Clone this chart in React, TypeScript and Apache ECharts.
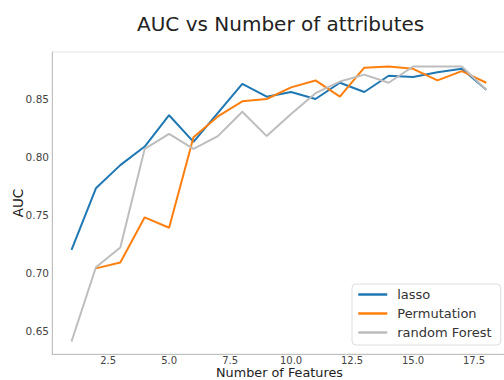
import React, { useEffect, useRef } from "react";
import * as echarts from "echarts";

const features = [1, 2, 3, 4, 5, 6, 7, 8, 9, 10, 11, 12, 13, 14, 15, 16, 17, 18];
const lasso = [0.720, 0.773, 0.793, 0.809, 0.836, 0.813, 0.838, 0.863, 0.852, 0.856, 0.850, 0.864, 0.856, 0.870, 0.869, 0.873, 0.876, 0.858];
const permutation = [null, 0.704, 0.709, 0.748, 0.739, 0.817, 0.835, 0.848, 0.850, 0.860, 0.866, 0.852, 0.877, 0.878, 0.876, 0.866, 0.874, 0.864];
const randomForest = [0.641, 0.705, 0.722, 0.807, 0.820, 0.807, 0.818, 0.839, 0.818, 0.837, 0.855, 0.865, 0.871, 0.864, 0.878, 0.878, 0.878, 0.858];
const xTicks = [2.5, 5, 7.5, 10, 12.5, 15, 17.5];
const yTicks = [0.65, 0.7, 0.75, 0.8, 0.85];
const seriesNames = ["lasso", "Permutation", "random Forest"];
const seriesColors = ["#1f77b4", "#ff7f0e", "#bdbdbd"];

const FONT = "DejaVu Sans";

export default function App() {
  const ref = useRef<HTMLDivElement>(null);
  useEffect(() => {
    if (!ref.current) return;
    const chart = echarts.init(ref.current, undefined, { renderer: "svg" });
    const values = [lasso, permutation, randomForest];
    const series = values.map((arr, i) => ({
      name: seriesNames[i],
      type: "line",
      symbol: "none",
      showSymbol: false,
      lineStyle: { width: 2, color: seriesColors[i] },
      itemStyle: { color: seriesColors[i] },
      data: features.map((f, j) => [f, arr[j]]).filter((d) => d[1] != null),
    }));
    chart.setOption({
      animation: false,
      backgroundColor: "#ffffff",
      textStyle: { fontFamily: FONT },
      title: {
        text: "AUC vs Number of attributes",
        left: 132,
        top: 9,
        textStyle: { fontFamily: FONT, fontSize: 20, fontWeight: "normal", color: "#222" },
      },
      grid: {
        left: 52,
        right: -3,
        top: 52,
        bottom: 26,
        outerBoundsMode: "none",
        containLabel: false,
        show: true,
        borderColor: "#e6e6e6",
        borderWidth: 1,
      },
      legend: {
        orient: "vertical",
        left: 352,
        top: 284,
        padding: [4, 9, 6, 5],
        itemGap: 6,
        itemWidth: 29,
        itemHeight: 14,
        borderColor: "#dddddd",
        borderWidth: 1,
        borderRadius: 4,
        backgroundColor: "#ffffff",
        itemStyle: { opacity: 0 },
        lineStyle: { width: 2.5 },
        textStyle: { fontFamily: FONT, fontSize: 13, color: "#333", padding: [0, 0, 0, 5] },
        data: seriesNames,
      },
      xAxis: {
        type: "value",
        min: 0.2,
        max: 18.85,
        name: "Number of Features",
        nameLocation: "middle",
        nameGap: 11.4,
        nameMoveOverlap: false,
        nameTextStyle: { fontFamily: FONT, fontSize: 12.8, lineHeight: 14.6, color: "#222" },
        axisLine: { show: true, lineStyle: { color: "#bfbfbf", width: 1 } },
        axisTick: { show: false, customValues: xTicks },
        splitLine: { show: false },
        axisLabel: {
          customValues: xTicks,
          fontFamily: FONT,
          fontSize: 10,
          lineHeight: 11.6,
          color: "#444",
          margin: 0.5,
          formatter: (v: number) => v.toFixed(1),
        },
      },
      yAxis: {
        type: "value",
        min: 0.6302,
        max: 0.8905,
        name: "AUC",
        nameLocation: "middle",
        nameGap: 27,
        nameMoveOverlap: false,
        nameTextStyle: { fontFamily: FONT, fontSize: 13.5, color: "#222" },
        axisLine: { show: true, lineStyle: { color: "#bfbfbf", width: 1 } },
        axisTick: { show: false, customValues: yTicks },
        splitLine: { show: false },
        axisLabel: {
          customValues: yTicks,
          fontFamily: FONT,
          fontSize: 10.5,
          color: "#444",
          margin: 3,
          formatter: (v: number) => v.toFixed(2),
        },
      },
      series,
    });
    return () => chart.dispose();
  }, []);
  return (
    <div
      ref={ref}
      style={{ position: "fixed", left: 0, top: 0, width: 504, height: 380, background: "#fff" }}
    />
  );
}
